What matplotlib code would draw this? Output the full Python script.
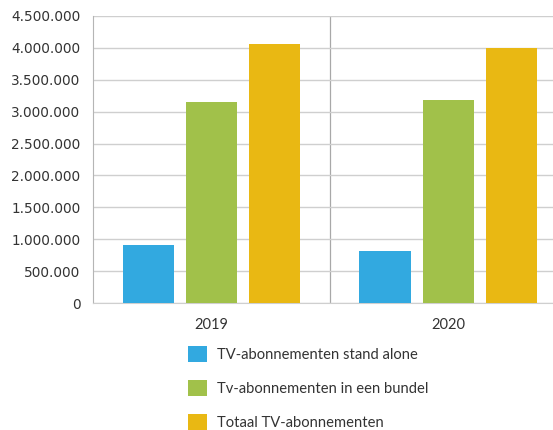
import matplotlib
matplotlib.use('Agg')
import matplotlib.pyplot as plt
from matplotlib.patches import Patch
from matplotlib.ticker import FuncFormatter

years = ["2019", "2020"]
series_names = [
    "TV-abonnementen stand alone",
    "Tv-abonnementen in een bundel",
    "Totaal TV-abonnementen",
]
stand_alone = [905000, 823000]
bundel = [3152000, 3183000]
totaal = [4061000, 3998000]
series = [stand_alone, bundel, totaal]
colors = ["#32a9e0", "#a1c14a", "#e9b813"]
yticks = list(range(0, 4500001, 500000))

fig = plt.figure(figsize=(5.53, 4.30), dpi=100)
# plot area runs past the right edge of the figure
ax = fig.add_axes([0.1682, 0.2953, 0.857, 0.6675])

width = 0.219
step = 0.266
for i, (vals, col, name) in enumerate(zip(series, colors, series_names)):
    xs = [k + (i - 1) * step for k in range(len(years))]
    ax.bar(xs, vals, width=width, color=col, edgecolor="none", zorder=3, label=name)

ax.set_xlim(-0.5, 1.5)
ax.set_ylim(0, 4500000)
ax.set_yticks(yticks)
ax.yaxis.set_major_formatter(FuncFormatter(lambda v, p: f"{int(v):,}".replace(",", ".")))
ax.grid(axis="y", color="#cfcfcf", linewidth=1.0, zorder=0)
ax.axvline(0.5, color="#a8a8a8", linewidth=0.9, zorder=1)

for s in ["top", "right"]:
    ax.spines[s].set_visible(False)
ax.spines["left"].set_color("#b5b5b5")
ax.spines["bottom"].set_color("#cfcfcf")

ax.set_xticks(range(len(years)))
ax.set_xticklabels(years, fontfamily="Lato", fontsize=10.5, color="#333333")
ax.tick_params(axis="x", length=0, pad=11)
ax.tick_params(axis="y", length=0, pad=9, labelsize=9.8, labelcolor="#333333")

handles = [Patch(facecolor=c, edgecolor="none") for c in colors]
fig.legend(handles, series_names, loc="upper left", bbox_to_anchor=(0.33, 0.209),
           frameon=False, prop={"family": "Lato", "size": 10.6},
           handlelength=1.25, handleheight=1.25, handletextpad=0.7,
           labelspacing=1.25, borderaxespad=0, labelcolor="#333333")

fig.savefig("out.png", dpi=100)
